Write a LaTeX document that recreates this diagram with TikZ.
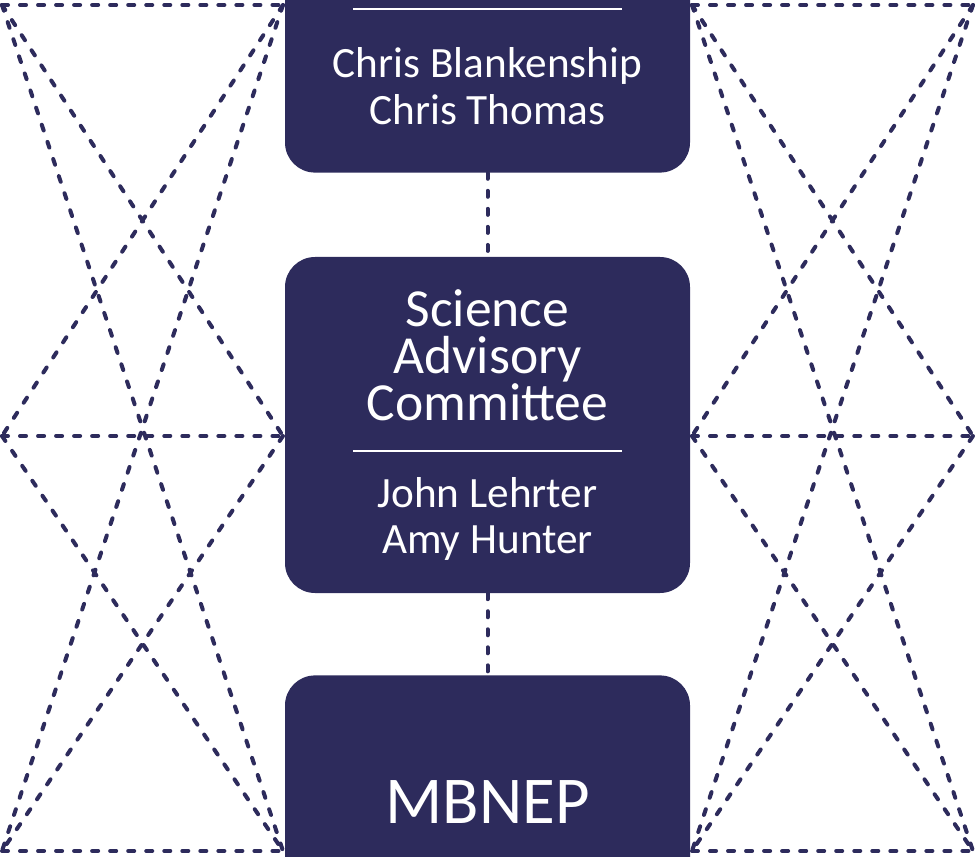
\documentclass[tikz,border=0pt]{standalone}
\usepackage{fontspec}
\setmainfont{Carlito}
\usetikzlibrary{positioning}

\definecolor{mbnavy}{RGB}{45,43,92}

\tikzset{
    lattice/.style={draw=mbnavy, line width=3.8pt, line cap=round, dash pattern=on 5.7pt off 11.4pt},
    link/.style={lattice},
    orgbox/.style={rectangle, rounded corners=1cm, fill=mbnavy, text=white,
        minimum width=13.5cm, text width=13cm, align=center, inner sep=0pt},
}
\newcommand{\titlefont}{\fontsize{50.8}{45}\selectfont\spaceskip=0.23em\relax}
\newcommand{\namefont}[1]{\fontsize{41}{#1}\selectfont\spaceskip=0.23em\relax}
\newcommand{\sepline}{\fontsize{38}{29.4}\selectfont\rule{8.95cm}{0.067cm}\par}

\begin{document}
\begin{tikzpicture}
    \useasboundingbox (0,0) rectangle (32.5,-28.5667);
    \clip (0,0) rectangle (32.5,-28.5667);

    % dashed lattices left and right of the column
    \begin{scope}[x=0.9484pt, y=-0.9484pt]
    \foreach \xl/\xr in {2/283, 692/973}{
        \draw[lattice] (\xl,5) -- (\xr,5) (\xl,436) -- (\xr,436) (\xl,851) -- (\xr,851);
        \draw[lattice] (\xl,5) -- (\xr,851) (\xr,5) -- (\xl,851);
        \draw[lattice] (\xl,5) -- (\xr,436) (\xr,5) -- (\xl,436);
        \draw[lattice] (\xl,436) -- (\xr,851) (\xr,436) -- (\xl,851);
    }
    \end{scope}

    \node[orgbox, minimum height=11.2cm] (sac) at (16.25,-14.1667)
        {\titlefont Science\\Advisory\\Committee\par
         \sepline
         \vspace{9.5pt}\namefont{43.6}John Lehrter\\Amy Hunter\par};
    \node[orgbox, minimum height=7.067cm, above=2.8cm of sac] (chairs)
        {\sepline
         \vspace{18.9pt}\namefont{44.6}Chris Blankenship\\Chris Thomas\par};
    \node[orgbox, minimum height=8.467cm, below=2.733cm of sac] (mbnep)
        {\fontsize{63.5}{70}\selectfont MBNEP\par};

    \draw[link] (chairs) -- (sac);
    \draw[link] (sac) -- (mbnep);
\end{tikzpicture}
\end{document}
